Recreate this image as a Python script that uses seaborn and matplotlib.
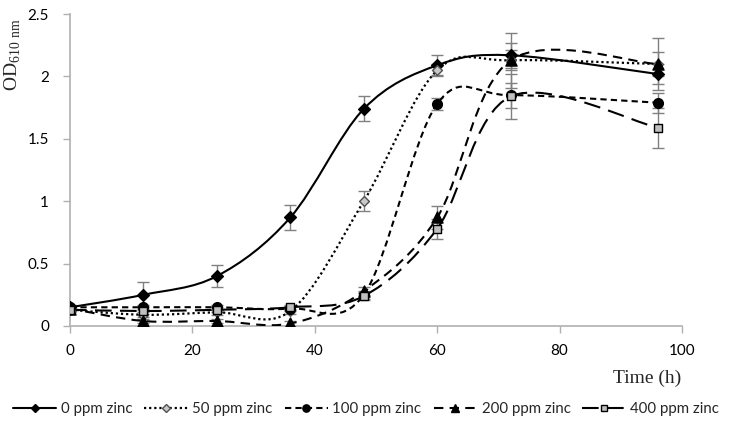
import numpy as np
import pandas as pd
import matplotlib
matplotlib.use("Agg")
import matplotlib.pyplot as plt
import seaborn as sns
from matplotlib.path import Path
from matplotlib.patches import PathPatch
from matplotlib.lines import Line2D

time_h = [0, 12, 24, 36, 48, 60, 72, 96]
labels = ["0 ppm zinc", "50 ppm zinc", "100 ppm zinc", "200 ppm zinc", "400 ppm zinc"]
od_0 = [0.15, 0.25, 0.40, 0.87, 1.74, 2.09, 2.17, 2.02]
err_0 = [0.02, 0.10, 0.09, 0.10, 0.10, 0.08, 0.10, 0.08]
od_50 = [0.13, 0.09, 0.11, 0.12, 1.00, 2.05, 2.13, 2.10]
err_50 = [0.02, 0.02, 0.02, 0.02, 0.08, 0.05, 0.08, 0.10]
od_100 = [0.15, 0.15, 0.15, 0.14, 0.25, 1.78, 1.85, 1.79]
err_100 = [0.02, 0.02, 0.02, 0.02, 0.03, 0.05, 0.10, 0.08]
od_200 = [0.14, 0.04, 0.04, 0.02, 0.28, 0.87, 2.13, 2.10]
err_200 = [0.02, 0.02, 0.02, 0.02, 0.03, 0.09, 0.22, 0.21]
od_400 = [0.13, 0.12, 0.13, 0.15, 0.24, 0.78, 1.84, 1.59]
err_400 = [0.02, 0.02, 0.02, 0.02, 0.03, 0.08, 0.18, 0.16]
x_ticks = [0, 20, 40, 60, 80, 100]
y_ticks = [0, 0.5, 1, 1.5, 2, 2.5]
y_tick_labels = ["0", "0.5", "1", "1.5", "2", "2.5"]

series = [od_0, od_50, od_100, od_200, od_400]
errors = [err_0, err_50, err_100, err_200, err_400]

sns.set_theme(style="white")
plt.rcParams['font.family'] = ['Lato', 'DejaVu Sans']
plt.rcParams['mathtext.fontset'] = 'custom'
plt.rcParams['mathtext.rm'] = 'Liberation Serif'

styles = [
    dict(ls='-', marker='D', ms=6, mfc='black', mec='black', lw=1.5),
    dict(ls=(0, (1, 1.3)), marker='D', ms=5, mfc='#c8c8c8', mec='#505050', lw=1.6),
    dict(ls=(0, (3, 2)), marker='o', ms=7, mfc='black', mec='black', lw=1.5),
    dict(ls=(0, (4.5, 3)), marker='^', ms=8, mfc='black', mec='black', lw=1.5),
    dict(ls=(0, (8, 4)), marker='s', ms=6, mfc='#c0c0c0', mec='black', lw=1.5),
]


def smooth_path(x, y):
    x = np.asarray(x, float)
    y = np.asarray(y, float)
    n = len(x)
    verts = [(x[0], y[0])]
    codes = [Path.MOVETO]
    for i in range(n - 1):
        p0 = i - 1 if i > 0 else i
        p3 = i + 2 if i + 2 < n else i + 1
        c1 = (x[i] + (x[i + 1] - x[p0]) / 6, y[i] + (y[i + 1] - y[p0]) / 6)
        c2 = (x[i + 1] - (x[p3] - x[i]) / 6, y[i + 1] - (y[p3] - y[i]) / 6)
        verts += [c1, c2, (x[i + 1], y[i + 1])]
        codes += [Path.CURVE4] * 3
    return Path(verts, codes)


fig = plt.figure(figsize=(7.32, 4.41), dpi=100)
ax = fig.add_axes([0.0956, 0.2608, 0.8361, 0.7072])

for vals, errs, lab, st in zip(series, errors, labels, styles):
    df = pd.DataFrame({"time": time_h, "od": vals, "err": errs})
    ax.errorbar(df["time"], df["od"], yerr=df["err"], fmt='none', ecolor='#808080',
                elinewidth=1, capsize=4, capthick=1, zorder=2)
    patch = PathPatch(smooth_path(df["time"], df["od"]), fill=False, edgecolor='black',
                      lw=st['lw'], linestyle=st['ls'], zorder=3)
    ax.add_patch(patch)
    sns.scatterplot(data=df, x="time", y="od", ax=ax, marker=st['marker'],
                    s=st['ms'] ** 2, color=st['mfc'], edgecolor=st['mec'], linewidth=1,
                    zorder=4, legend=False)

ax.set_xlim(0, 100)
ax.set_ylim(0, 2.5)
ax.set_xticks(x_ticks)
ax.set_yticks(y_ticks)
ax.set_yticklabels(y_tick_labels)
ax.set_xlabel("")
ax.set_ylabel("")
for side in ['top', 'right']:
    ax.spines[side].set_visible(False)
for side in ['left', 'bottom']:
    ax.spines[side].set_color('#b0b0b0')
    ax.spines[side].set_linewidth(1.2)
ax.tick_params(axis='both', which='both', direction='out', length=5, width=1,
               color='#b0b0b0', labelsize=11, labelcolor='black', bottom=True, left=True)
ax.tick_params(axis='x', pad=8)
ax.tick_params(axis='y', pad=10)

fig.text(0.004, 0.958, r"$\mathrm{OD}_{\mathrm{610\ nm}}$", rotation=90, ha='left', va='top',
         fontsize=14, family='Liberation Serif')
fig.text(0.931, 0.142, "Time (h)", ha='right', va='center', fontsize=14,
         family='Liberation Serif')

handles = []
for lab, st in zip(labels, styles):
    handles.append(Line2D([0], [0], color='black', lw=st['lw'], ls=st['ls'], marker=st['marker'],
                          ms=st['ms'] * 0.75, mfc=st['mfc'], mec=st['mec'], label=lab))
fig.legend(handles=handles, loc='center', bbox_to_anchor=(0.5, 0.072), ncol=5, frameon=False,
           fontsize=10.8, handlelength=2.9, handletextpad=0.3, columnspacing=0.8)

fig.savefig("out.png", dpi=100)
